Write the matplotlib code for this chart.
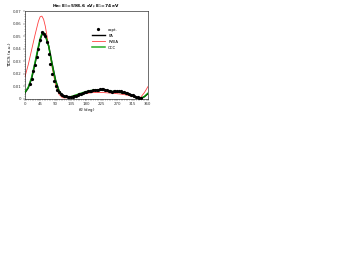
import matplotlib
matplotlib.use("Agg")
import matplotlib.pyplot as plt
from matplotlib.ticker import MultipleLocator

title = "He: E$_0$=598.6 eV; E$_1$=74 eV"
xlabel = r"$\theta_2$ (deg)"
ylabel = "TDCS (a.u.)"

theta_model = [0, 10, 20, 30, 40, 45, 50, 55, 60, 70, 80, 90, 100, 110, 120, 130, 140, 150,
               160, 170, 180, 190, 200, 210, 220, 230, 240, 250, 260, 270, 280, 290, 300,
               310, 320, 330, 335, 340, 350, 360]
ccc = [0.005, 0.009, 0.017, 0.029, 0.042, 0.048, 0.052, 0.053, 0.051, 0.042, 0.027, 0.014,
       0.006, 0.0022, 0.0012, 0.0013, 0.002, 0.003, 0.004, 0.0049, 0.0057, 0.0063, 0.0068,
       0.007, 0.0071, 0.0069, 0.0065, 0.006, 0.0056, 0.0053, 0.005, 0.0045, 0.0038, 0.0028,
       0.0016, 0.0005, 0.0002, 0.0004, 0.0018, 0.0043]
pa = [0.0045, 0.0085, 0.016, 0.028, 0.041, 0.047, 0.051, 0.052, 0.0505, 0.042, 0.028, 0.015,
      0.0065, 0.0025, 0.0012, 0.0012, 0.0018, 0.0027, 0.0036, 0.0045, 0.0053, 0.006, 0.0065,
      0.0068, 0.0069, 0.0068, 0.0064, 0.006, 0.0056, 0.0053, 0.005, 0.0046, 0.004, 0.003,
      0.0018, 0.0006, 0.0002, 0.0003, 0.0016, 0.004]
pwia = [0.017, 0.027, 0.039, 0.051, 0.062, 0.0655, 0.066, 0.0635, 0.058, 0.042, 0.025, 0.011,
        0.0035, 0.0008, 0.0006, 0.0012, 0.002, 0.0027, 0.0033, 0.0038, 0.0042, 0.0046, 0.0049,
        0.005, 0.005, 0.0049, 0.0047, 0.0045, 0.0043, 0.004, 0.0037, 0.0033, 0.0028, 0.0021,
        0.0012, 0.0003, 0.0002, 0.0015, 0.005, 0.0096]

theta_exp = [15, 20, 25, 30, 35, 40, 45, 50, 55, 60, 65, 70, 75, 80, 85, 90, 95, 100, 105,
             110, 115, 120, 125, 130, 135, 140, 145, 150, 155, 160, 165, 170, 175, 180,
             185, 190, 195, 200, 205, 210, 215, 220, 225, 230, 235, 240, 245, 250, 255,
             260, 265, 270, 275, 280, 285, 290, 295, 300, 305, 310, 315, 320, 325, 330, 335, 340]
expt = [0.012, 0.016, 0.022, 0.027, 0.033, 0.040, 0.047, 0.053, 0.052, 0.050, 0.045, 0.036,
        0.028, 0.020, 0.014, 0.010, 0.007, 0.005, 0.0035, 0.0028, 0.0022, 0.002, 0.0016,
        0.0014, 0.0013, 0.0012, 0.0018, 0.0022, 0.003, 0.0035, 0.004, 0.0045, 0.005, 0.0055,
        0.0058, 0.006, 0.0063, 0.0066, 0.007, 0.0072, 0.0072, 0.0075, 0.0078, 0.0074, 0.007,
        0.0068, 0.0062, 0.006, 0.0055, 0.0058, 0.0062, 0.0062, 0.006, 0.0058, 0.0055, 0.005,
        0.0045, 0.0042, 0.0038, 0.0032, 0.0028, 0.0022, 0.0015, 0.001, 0.0006, 0.0003]

fig = plt.figure(figsize=(3.59, 2.78), dpi=100)
ax = fig.add_axes([0.069, 0.645, 0.343, 0.315])
fs = 2.8
ax.plot(theta_exp, expt, 'o', color='black', ms=1.3, label='expt.', zorder=5)
ax.plot(theta_model, pa, '-', color='black', lw=1.0, label='PA', zorder=3)
ax.plot(theta_model, pwia, '-', color='#ff4040', lw=0.6, label='PWIA', zorder=2)
ax.plot(theta_model, ccc, '-', color='#00a000', lw=1.1, label='CCC', zorder=4, alpha=0.85)

ax.set_xlim(0, 360)
ax.set_ylim(0, 0.07)
ax.xaxis.set_major_locator(MultipleLocator(45))
ax.xaxis.set_minor_locator(MultipleLocator(5))
ax.set_yticks([0, 0.01, 0.02, 0.03, 0.04, 0.05, 0.06, 0.07])
ax.set_yticklabels(['0', '0.01', '0.02', '0.03', '0.04', '0.05', '0.06', '0.07'])
ax.yaxis.set_minor_locator(MultipleLocator(0.002))
ax.tick_params(labelsize=fs, length=1.2, width=0.3, pad=1, colors='#333333')
ax.tick_params(which='minor', length=0.7, width=0.3, colors='#555555')
for s in ax.spines.values():
    s.set_linewidth(0.4)
ax.set_xlabel(xlabel, fontsize=fs, labelpad=0.5)
ax.set_ylabel(ylabel, fontsize=3.2, labelpad=1)
ax.set_title(title, fontsize=3.2, fontweight='bold', pad=3)
ax.legend(loc='upper left', bbox_to_anchor=(0.52, 0.84), fontsize=fs, frameon=False,
          handlelength=3.5, labelspacing=0.5, borderpad=0.2)
fig.savefig('out.png', dpi=100)
